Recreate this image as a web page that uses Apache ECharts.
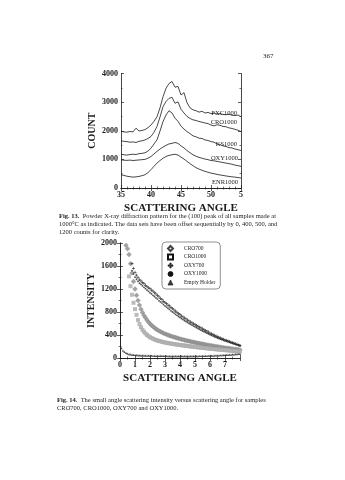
<!DOCTYPE html>
<html><head><meta charset="utf-8">
<script src="https://cdn.jsdelivr.net/npm/echarts@6/dist/echarts.min.js"></script>
<style>html,body{margin:0;padding:0;background:#fff}#c{width:345px;height:480px}</style>
</head><body><div id="c"></div>
<script>
// ---------- Fig. 13 data (XRD, offset curves) ----------
const xrdAngle = [35,35.5,36,36.5,37,37.5,38,38.5,39,39.5,40,40.5,41,41.5,42,42.5,43,43.5,44,44.5,45,45.5,46,46.5,47,47.5,48,48.5,49,49.5,50,50.5,51,51.5,52,52.5,53,53.5,54,54.5,55];
const pxc1000 = [1990,1960,1950,1975,1960,2090,1990,2010,2040,2110,2200,2330,2490,2800,3190,3480,3650,3720,3520,3550,3250,3330,2980,2800,2730,2700,2650,2680,2620,2640,2600,2620,2580,2600,2570,2560,2580,2540,2530,2550,2490];
const cro1000 = [1650,1630,1620,1600,1610,1590,1630,1650,1680,1730,1800,1950,2150,2480,2840,3020,3130,3170,2960,3010,2750,2620,2500,2430,2380,2360,2320,2300,2270,2250,2200,2170,2210,2190,2150,2140,2100,2080,2050,2020,1970];
const ks1000  = [1180,1160,1150,1170,1180,1170,1200,1210,1230,1290,1390,1540,1680,1990,2320,2550,2700,2620,2440,2330,2160,2060,1970,1900,1820,1790,1740,1730,1680,1660,1620,1600,1540,1520,1470,1450,1410,1400,1360,1340,1310];
const oxy1000 = [985,970,965,975,960,970,980,990,1000,1040,1100,1190,1280,1360,1430,1490,1540,1560,1590,1560,1470,1400,1310,1230,1160,1110,1070,1040,1010,990,960,950,930,910,890,870,850,830,800,780,755];
const enr1000 = [465,440,410,395,380,390,405,430,465,540,640,760,870,960,1040,1100,1140,1160,1180,1150,1080,1010,930,850,780,710,660,620,580,550,520,500,475,455,440,420,405,390,380,365,350];
const xrdNames = ['PXC1000','CRO1000','KS1000','OXY1000','ENR1000'];
const xrdTickLabels = ['35','40','45','50','5'];

// ---------- Fig. 14 data (small angle scattering) ----------
const saxsAngle = [0.1,0.2,0.3,0.4,0.5,0.6,0.7,0.8,0.9,1.0,1.1,1.2,1.3,1.4,1.5,1.6,1.7,1.8,1.9,2.0,2.1,2.2,2.3,2.4,2.5,2.6,2.7,2.8,2.9,3.0,3.1,3.2,3.3,3.4,3.5,3.6,3.7,3.8,3.9,4.0,4.1,4.2,4.3,4.4,4.5,4.6,4.7,4.8,4.9,5.0,5.1,5.2,5.3,5.4,5.5,5.6,5.7,5.8,5.9,6.0,6.1,6.2,6.3,6.4,6.5,6.6,6.7,6.8,6.9,7.0,7.1,7.2,7.3,7.4,7.5,7.6,7.7,7.8,7.9,8.0];
const cro700 = [null,null,null,1960,1900,1800,1640,1480,1330,1200,1090,1000,920,850,790,740,700,660,625,595,570,548,525,505,488,472,458,445,432,420,410,400,390,381,372,364,356,348,340,333,326,319,312,305,299,293,287,281,275,269,264,258,253,248,243,238,233,228,223,218,214,209,205,200,196,192,188,184,180,176,172,169,165,162,158,155,152,148,145,142];
const cro1000s = [null,null,null,null,null,1420,1250,1100,960,850,750,660,590,535,490,455,425,400,380,362,348,335,323,313,304,296,289,282,276,270,265,260,255,250,246,242,238,234,230,226,222,219,215,212,208,205,202,198,195,192,189,186,183,180,177,174,171,168,166,163,160,158,155,152,150,147,145,142,140,137,135,133,130,128,126,124,121,119,117,115];
const oxy700 = [null,null,null,null,null,null,null,1640,1560,1490,1440,1400,1360,1340,1310,1295,1265,1245,1220,1205,1180,1165,1135,1115,1085,1065,1035,1015,985,965,945,920,905,880,860,835,815,795,770,755,730,715,695,680,660,645,625,612,595,582,565,552,536,522,508,493,480,466,452,432,420,407,395,382,370,357,346,336,325,315,305,296,285,276,266,257,246,237,227,217];
const oxy1000s = [null,null,null,null,null,null,null,1520,1460,1405,1370,1335,1300,1280,1255,1230,1205,1180,1160,1135,1115,1090,1070,1045,1025,995,975,955,930,905,885,865,845,820,800,782,760,742,722,704,686,668,650,634,618,602,586,572,556,542,528,512,498,484,470,458,444,432,418,406,394,382,370,360,348,338,327,318,308,298,290,281,272,263,255,247,238,230,222,213];
const emptyHolder = [170,130,105,88,76,68,62,58,55,52,50,49,47,46,45,44,43,42,41,40,40,39,38,38,37,37,36,36,35,35,35,34,34,34,33,33,33,33,32,32,32,32,32,32,32,32,32,33,33,33,34,34,35,35,36,36,37,38,39,40,41,42,43,44,45,47,48,50,51,53,55,56,58,60,62,64,66,68,70,72];
const saxsNames = ['CRO700','CRO1000','OXY700','OXY1000','Empty Holder'];
const saxsTickLabels = ['0','1','2','3','4','5','6','7',''];

const serif = '"Liberation Serif","DejaVu Serif",serif';
const ink = '#1a1a1a';
const tickLabel = {fontFamily: serif, fontWeight: 'bold', fontSize: 8, color: ink, margin: 3};
const line = {show: true, lineStyle: {color: ink, width: 0.8}};
const tick = {show: true, inside: true, length: 3, lineStyle: {color: ink, width: 0.7}};
const minor = (n) => ({show: true, splitNumber: n, length: 1.5, lineStyle: {color: ink, width: 0.6}});
const nameStyle = {fontFamily: serif, fontWeight: 'bold', fontSize: 11, color: ink};

function pairs(xs, ys) { return xs.map((x, i) => [x, ys[i]]); }

const chart = echarts.init(document.getElementById('c'));

const xrdSeries = [pxc1000, cro1000, ks1000, oxy1000, enr1000].map((vals, i) => ({
  name: xrdNames[i], type: 'line', xAxisIndex: 0, yAxisIndex: 0,
  data: pairs(xrdAngle, vals), showSymbol: false, silent: true,
  lineStyle: {color: ink, width: 0.8}
}));

const plusPath = 'path://M3,0H5V3H8V5H5V8H3V5H0V3H3Z';
const saxsStyle = [
  {symbol: 'emptyDiamond', symbolSize: 2.5, color: '#8c8c8c'},
  {symbol: 'emptyRect', symbolSize: 2, color: '#aaaaaa'},
  {symbol: plusPath, symbolSize: 3, color: '#222'},
  {symbol: 'circle', symbolSize: 1.8, color: '#222'},
  {symbol: 'triangle', symbolSize: 2.2, color: '#222'}
];
const saxsSeries = [cro700, cro1000s, oxy700, oxy1000s, emptyHolder].map((vals, i) => ({
  name: saxsNames[i], type: 'scatter', xAxisIndex: 2, yAxisIndex: 2,
  data: pairs(saxsAngle, vals).filter(p => p[1] !== null),
  symbol: saxsStyle[i].symbol, symbolSize: saxsStyle[i].symbolSize, silent: true,
  itemStyle: {color: saxsStyle[i].color, borderWidth: 0.5}
}));

const legendIcons = ['emptyDiamond','emptyRect',plusPath,'circle','triangle'];

const labelFont = '6.5px ' + serif;
const capFont = '6.5px ' + serif;
function txt(text, x, y, opts) {
  return {type: 'text', silent: true, style: Object.assign({text, x, y, font: capFont, fill: '#222', textVerticalAlign: 'middle'}, opts || {})};
}
const capRich = {b: {fontWeight: 'bold', fontFamily: serif, fontSize: 6.5, fill: '#222'}};
const plain = v => String(v);

chart.setOption({
  animation: false,
  backgroundColor: '#fff',
  grid: [
    {left: 121, top: 73.5, width: 120, height: 114.5},
    {left: 120, top: 243, width: 120, height: 115}
  ],
  xAxis: [
    {gridIndex: 0, type: 'value', min: 35, max: 55, interval: 5, axisLine: line, axisTick: tick, minorTick: minor(5),
     splitLine: {show: false}, axisLabel: Object.assign({}, tickLabel, {formatter: v => xrdTickLabels[Math.round((v - 35) / 5)]}),
     name: 'SCATTERING ANGLE', nameLocation: 'middle', nameGap: 15, nameTextStyle: nameStyle},
    {gridIndex: 0, type: 'value', position: 'top', min: 35, max: 55, interval: 5, axisLine: line, axisTick: tick, minorTick: minor(5),
     splitLine: {show: false}, axisLabel: {show: false}},
    {gridIndex: 1, type: 'value', min: 0, max: 8, interval: 1, axisLine: line, axisTick: tick, minorTick: minor(2),
     splitLine: {show: false}, axisLabel: Object.assign({}, tickLabel, {formatter: v => saxsTickLabels[Math.round(v)]}),
     name: 'SCATTERING ANGLE', nameLocation: 'middle', nameGap: 15, nameTextStyle: nameStyle},
    {gridIndex: 1, type: 'value', position: 'top', min: 0, max: 8, interval: 1, axisLine: line, axisTick: tick, minorTick: minor(2),
     splitLine: {show: false}, axisLabel: {show: false}}
  ],
  yAxis: [
    {gridIndex: 0, type: 'value', min: 0, max: 4000, interval: 1000, axisLine: line, axisTick: tick, minorTick: minor(2),
     splitLine: {show: false}, axisLabel: Object.assign({}, tickLabel, {formatter: plain}),
     name: 'COUNT', nameLocation: 'middle', nameGap: 24, nameTextStyle: Object.assign({}, nameStyle, {fontSize: 10})},
    {gridIndex: 0, type: 'value', position: 'right', min: 0, max: 4000, interval: 1000, axisLine: line, axisTick: tick, minorTick: minor(2),
     splitLine: {show: false}, axisLabel: {show: false}},
    {gridIndex: 1, type: 'value', min: 0, max: 2000, interval: 400, axisLine: line, axisTick: tick, minorTick: minor(2),
     splitLine: {show: false}, axisLabel: Object.assign({}, tickLabel, {formatter: plain}),
     name: 'INTENSITY', nameLocation: 'middle', nameGap: 24, nameTextStyle: Object.assign({}, nameStyle, {fontSize: 10})},
    {gridIndex: 1, type: 'value', position: 'right', min: 0, max: 2000, interval: 400, axisLine: line, axisTick: tick, minorTick: minor(2),
     splitLine: {show: false}, axisLabel: {show: false}}
  ],
  legend: {
    orient: 'vertical', left: 162, top: 242,
    itemWidth: 5, itemHeight: 5, itemGap: 1.5,
    padding: [3, 5, 3, 5],
    borderColor: '#444', borderWidth: 0.6, borderRadius: 4, backgroundColor: '#fff',
    textStyle: {fontFamily: serif, fontSize: 5.5, lineHeight: 7, color: '#222', padding: [0, 0, 0, 6]},
    selectedMode: false,
    data: saxsNames.map((n, i) => ({name: n, icon: legendIcons[i], itemStyle: {color: '#111', borderColor: '#111', borderWidth: 0.8}}))
  },
  series: xrdSeries.concat(saxsSeries),
  graphic: [
    txt('367', 263, 56, {font: '7px ' + serif}),
    // curve labels, Fig. 13
    txt(xrdNames[0], 238, 113, {font: labelFont, textAlign: 'right', backgroundColor: '#fff', padding: [0, 1]}),
    txt(xrdNames[1], 238, 122, {font: labelFont, textAlign: 'right', backgroundColor: '#fff', padding: [0, 1]}),
    txt(xrdNames[2], 238, 144, {font: labelFont, textAlign: 'right', backgroundColor: '#fff', padding: [0, 1]}),
    txt(xrdNames[3], 239, 158, {font: labelFont, textAlign: 'right', backgroundColor: '#fff', padding: [0, 1]}),
    txt(xrdNames[4], 239, 182, {font: labelFont, textAlign: 'right', backgroundColor: '#fff', padding: [0, 1]}),
    // captions
    txt('{b|Fig. 13.}  Powder X-ray diffraction pattern for the (100) peak of all samples made at', 59, 216, {rich: capRich}),
    txt('1000°C as indicated. The data sets have been offset sequentially by 0, 400, 500, and', 59, 224),
    txt('1200 counts for clarity.', 59, 232),
    txt('{b|Fig. 14.}  The small angle scattering intensity versus scattering angle for samples', 57, 400, {rich: capRich}),
    txt('CRO700, CRO1000, OXY700 and OXY1000.', 57, 408)
  ]
});
</script>
</body></html>
